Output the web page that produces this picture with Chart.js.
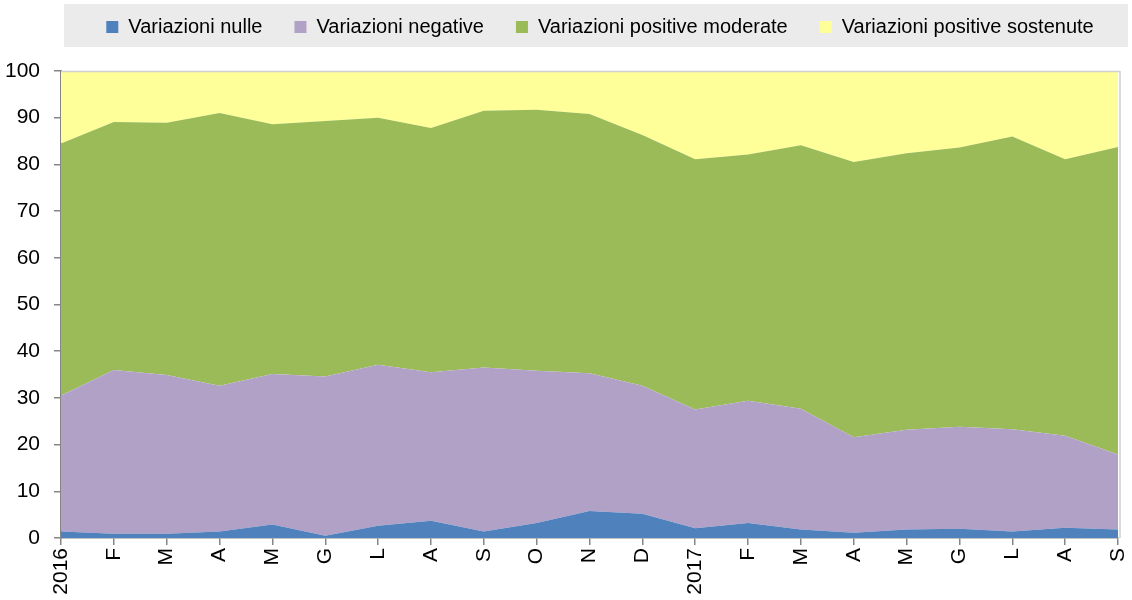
<!DOCTYPE html>
<html>
<head>
<meta charset="utf-8">
<script src="https://cdn.jsdelivr.net/npm/chart.js@4/dist/chart.umd.min.js"></script>
<style>
  html, body { margin: 0; padding: 0; background: #ffffff; }
  #wrap { width: 1132px; height: 600px; position: relative; }
</style>
</head>
<body>
<div id="wrap"><canvas id="c" width="1132" height="600"></canvas></div>
<script>
const categories = ['2016','F','M','A','M','G','L','A','S','O','N','D','2017','F','M','A','M','G','L','A','S'];
const nulle      = [1.4, 0.9, 0.9, 1.4, 2.9, 0.5, 2.6, 3.7, 1.4, 3.2, 5.8, 5.2, 2.1, 3.2, 1.8, 1.1, 1.8, 2.0, 1.4, 2.2, 1.8];
const negative   = [29.1, 35.1, 34.0, 31.2, 32.2, 34.1, 34.5, 31.8, 35.1, 32.6, 29.5, 27.4, 25.4, 26.2, 25.9, 20.5, 21.4, 21.8, 21.9, 19.7, 16.1];
const moderate   = [54.0, 53.1, 54.0, 58.4, 53.5, 54.7, 52.9, 52.3, 55.0, 55.9, 55.5, 53.7, 53.6, 52.7, 56.4, 58.9, 59.2, 59.8, 62.7, 59.2, 65.8];
const sostenute  = [15.5, 10.9, 11.1, 9.0, 11.4, 10.7, 10.0, 12.2, 8.5, 8.3, 9.2, 13.7, 18.9, 17.9, 15.9, 19.5, 17.6, 16.4, 14.0, 18.9, 16.3];
const seriesNames = ['Variazioni nulle','Variazioni negative','Variazioni positive moderate','Variazioni positive sostenute'];
const yTicks = [0,10,20,30,40,50,60,70,80,90,100];

const FONT = "'Liberation Sans Narrow', 'Arial Narrow', 'Liberation Sans', Arial, sans-serif";
const colors = ['#4F81BD', '#B2A1C7', '#9BBB59', '#FFFF99'];
const values = [nulle, negative, moderate, sostenute];

const datasets = values.map((v, i) => ({
  label: seriesNames[i],
  data: v,
  backgroundColor: colors[i],
  borderColor: colors[i],
  borderWidth: 0,
  pointRadius: 0,
  tension: 0,
  fill: i === 0 ? 'origin' : '-1'
}));

const legendBox = {
  id: 'legendBox',
  beforeInit(chart) {
    const orig = chart.legend.fit;
    chart.legend.fit = function () { orig.call(this); this.height = 71; };
  },
  afterLayout(chart) {
    const l = chart.legend;
    l.left = 64; l.right = 1136; l.width = 1072;
    l.top = -15;
  },
  beforeDraw(chart) {
    const ctx = chart.ctx;
    ctx.save();
    ctx.fillStyle = '#EBEBEB';
    ctx.fillRect(64, 4, 1064, 43);
    ctx.restore();
  },
  afterDraw(chart) {
    const a = chart.chartArea, ctx = chart.ctx;
    ctx.save();
    ctx.strokeStyle = '#D0D0D0';
    ctx.lineWidth = 1.5;
    ctx.beginPath();
    ctx.moveTo(a.left, a.top + 0.5);
    ctx.lineTo(a.right + 2, a.top + 0.5);
    ctx.moveTo(a.right + 2, a.top);
    ctx.lineTo(a.right + 2, a.bottom);
    ctx.stroke();
    ctx.restore();
  }
};

new Chart(document.getElementById('c'), {
  type: 'line',
  data: { labels: categories, datasets },
  plugins: [legendBox],
  options: {
    responsive: false,
    animation: false,
    layout: { padding: { left: 0, right: 14, top: 0, bottom: 0 } },
    plugins: {
      legend: {
        position: 'top',
        labels: {
          font: { family: FONT, size: 20 },
          color: '#000',
          boxWidth: 12,
          boxHeight: 12,
          padding: 32
        }
      },
      tooltip: { enabled: false },
      filler: { propagate: false }
    },
    scales: {
      x: {
        offset: false,
        grid: { drawOnChartArea: false, drawTicks: true, tickLength: 7, color: '#868686', lineWidth: 1.5 },
        border: { color: '#868686', width: 1.5 },
        ticks: {
          autoSkip: false, maxRotation: 90, minRotation: 90, padding: 3,
          font: { family: FONT, size: 21 }, color: '#000'
        },
        afterFit(s) { s.height = 62; s.paddingLeft = 0; s.paddingRight = 0; }
      },
      y: {
        stacked: true,
        min: 0, max: 100,
        afterBuildTicks(s) { s.ticks = yTicks.map(v => ({ value: v })); },
        grid: { drawOnChartArea: false, drawTicks: true, tickLength: 7, color: '#868686', lineWidth: 1.5 },
        border: { color: '#868686', width: 2 },
        ticks: { padding: 14, font: { family: FONT, size: 21 }, color: '#000' },
        afterFit(s) { s.width = 61; s.paddingTop = 0; s.paddingBottom = 0; }
      }
    }
  }
});
</script>
</body>
</html>
